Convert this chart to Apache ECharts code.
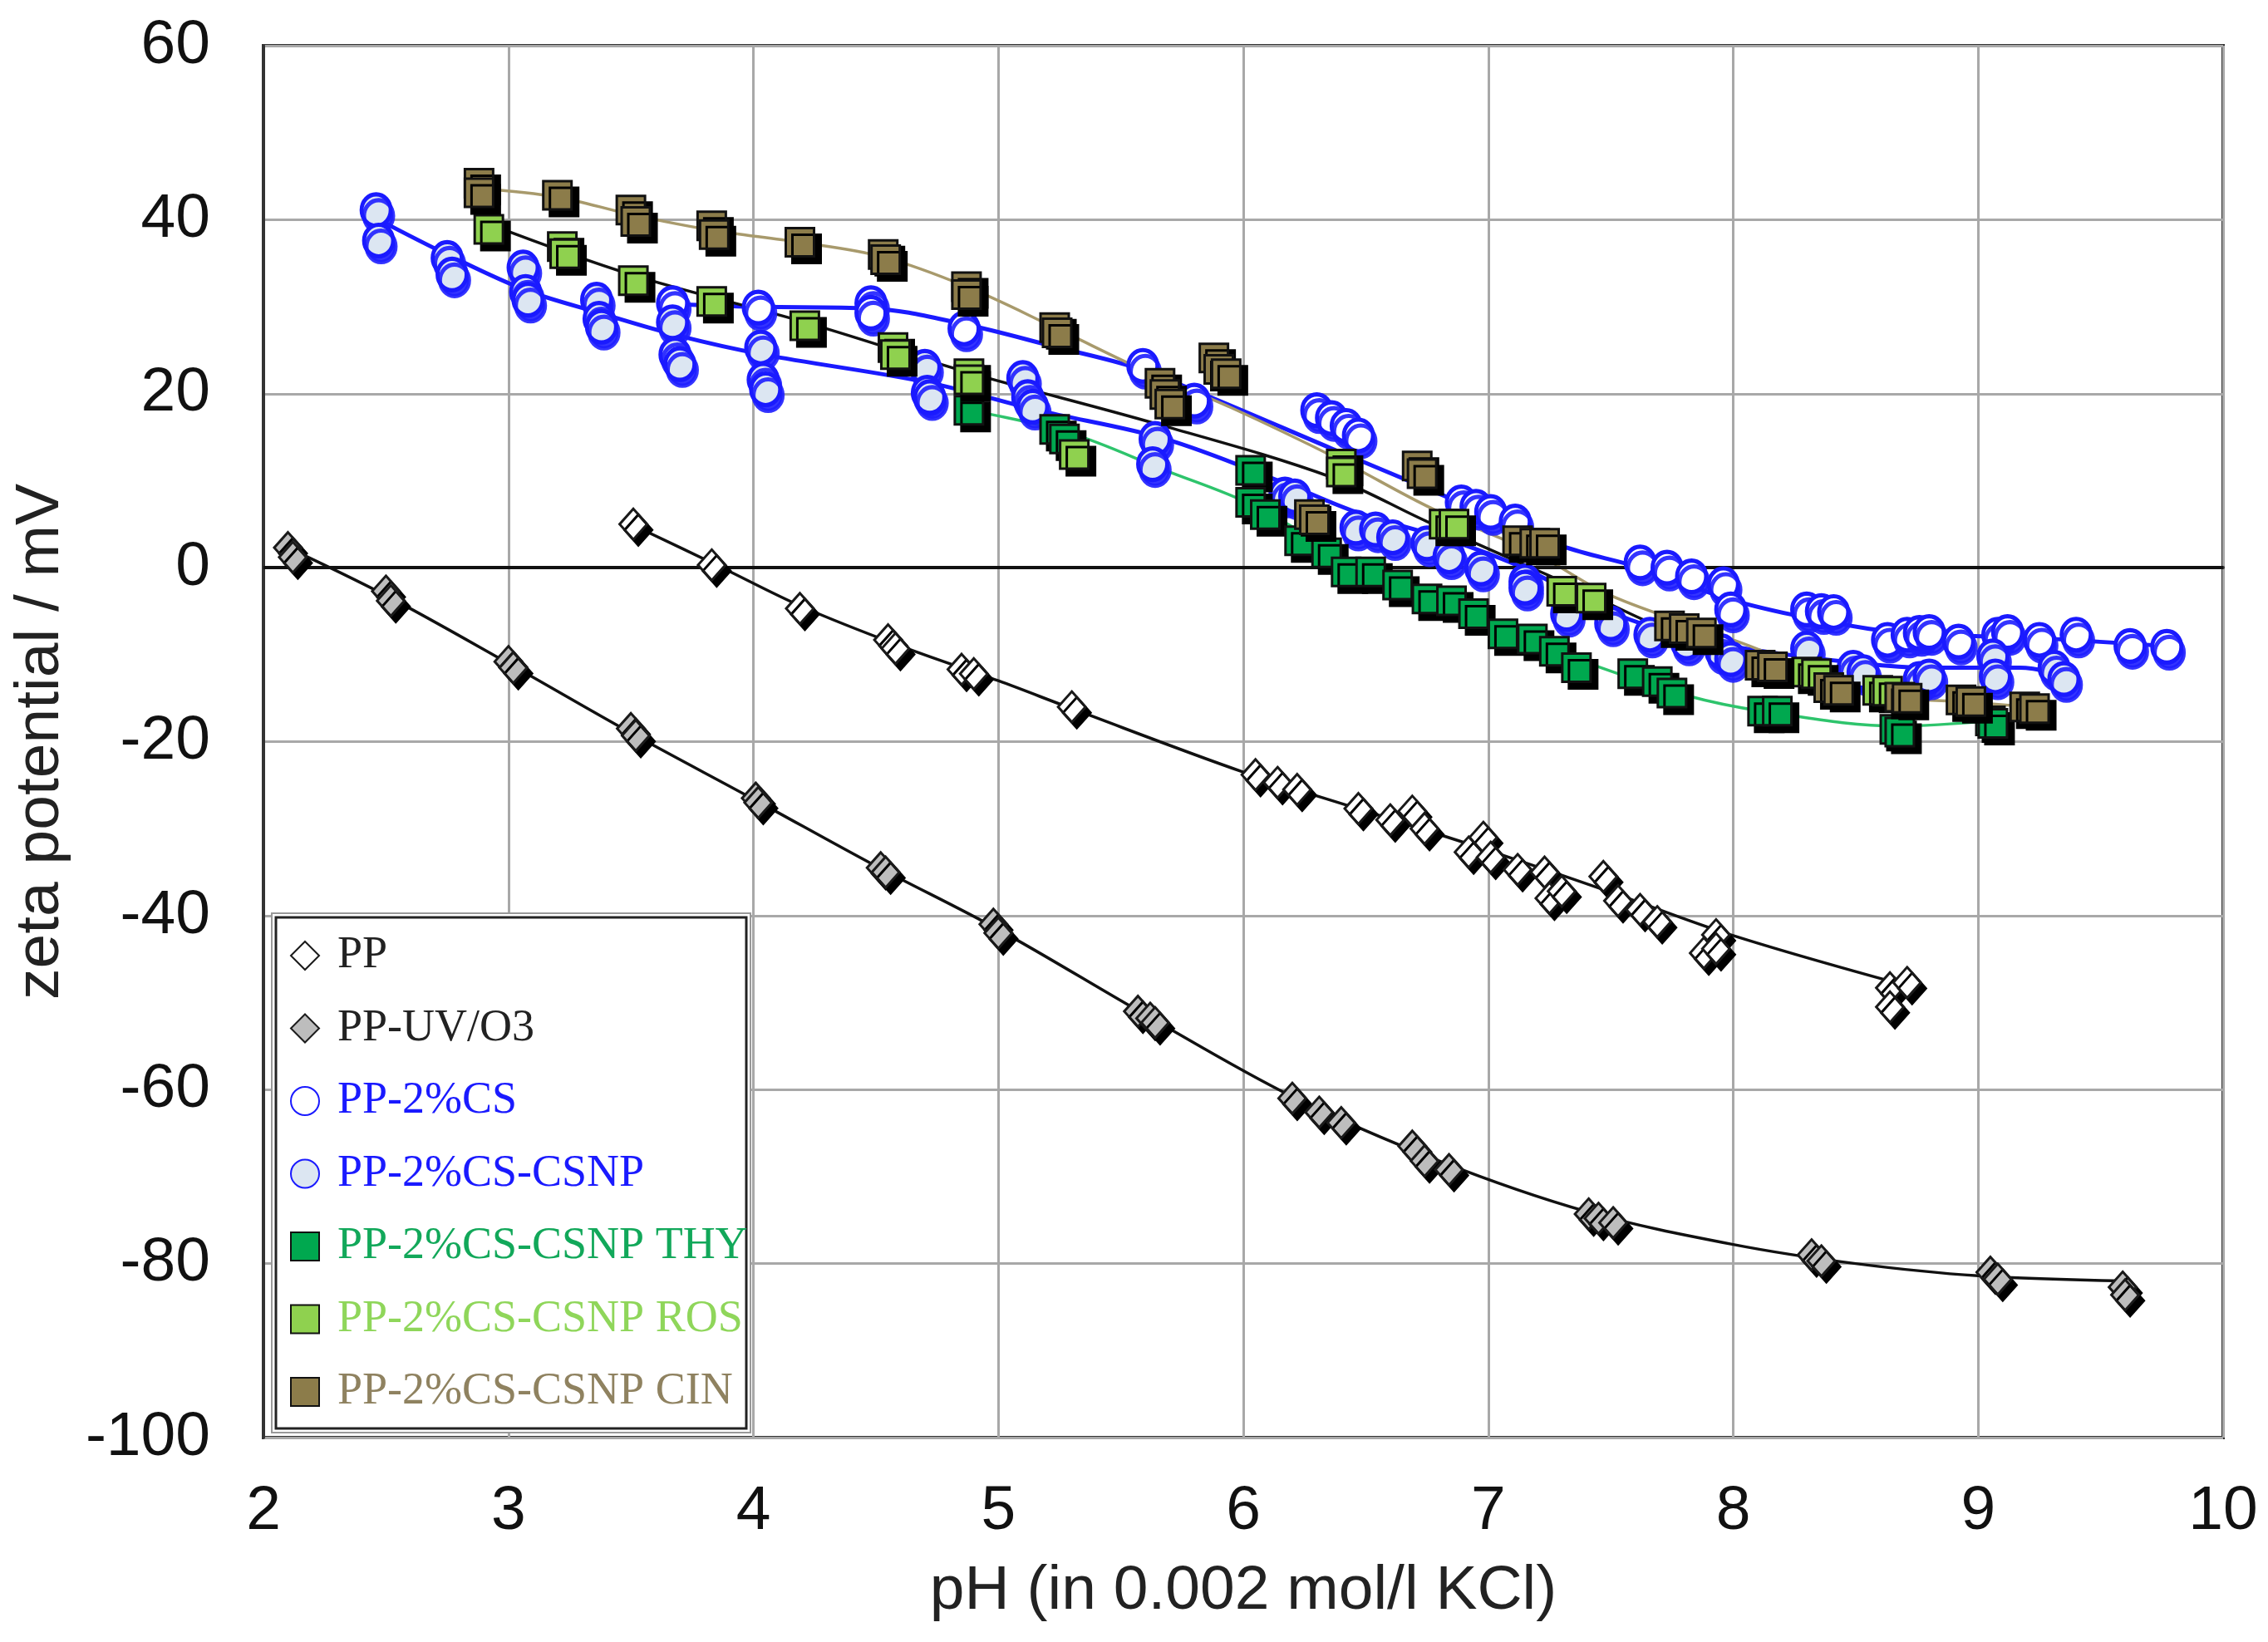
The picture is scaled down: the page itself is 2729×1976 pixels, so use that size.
<!DOCTYPE html>
<html><head><meta charset="utf-8">
<script src="https://cdn.jsdelivr.net/npm/echarts@6/dist/echarts.min.js"></script>
<style>html,body{margin:0;padding:0;background:#fff}#c{width:2729px;height:1976px}</style>
</head><body><div id="c"></div>
<script>
// axis ticks
const xTicks = [2, 3, 4, 5, 6, 7, 8, 9, 10];
const yTicks = [-100, -80, -60, -40, -20, 0, 20, 40, 60];

// measured points [pH, zeta mV]
const ppPts = [[3.51,5],[3.83,0.3],[4.19,-4.7],[4.55,-8.3],[4.58,-9.3],[4.85,-11.7],[4.9,-12.2],[5.3,-16],[6.05,-23.8],[6.14,-24.7],[6.22,-25.5],[6.47,-27.7],[6.6,-29],[6.69,-28],[6.74,-30],[6.92,-32.7],[6.98,-31],[7.01,-33.3],[7.12,-34.7],[7.23,-35],[7.25,-38],[7.3,-37.2],[7.47,-35.5],[7.53,-38.3],[7.62,-39.3],[7.69,-40.7],[7.88,-44.3],[7.93,-42.2],[7.93,-43.8],[8.64,-48.3],[8.71,-47.7],[8.64,-50.5]];
const ppuvPts = [[2.1,2.3],[2.12,1.2],[2.5,-2.7],[2.52,-3.8],[3.0,-10.8],[3.02,-11.5],[3.5,-18.5],[3.52,-19.3],[4.01,-26.5],[4.02,-27],[4.52,-34.5],[4.54,-35],[4.98,-41],[5.0,-42],[5.57,-51],[5.62,-51.8],[5.64,-52.3],[6.2,-61],[6.31,-62.6],[6.4,-63.8],[6.69,-66.5],[6.74,-68.2],[6.84,-69.2],[7.41,-74.3],[7.45,-74.8],[7.51,-75.3],[8.32,-79],[8.36,-79.7],[9.05,-81],[9.08,-81.8],[9.59,-82.7],[9.6,-83.6]];
const csPts = [[3.67,30.4],[4.02,29.9],[4.48,30.4],[4.48,29.3],[4.86,27.5],[5.59,23.2],[5.8,19.2],[6.3,18.1],[6.36,17.2],[6.42,16.3],[6.47,15.2],[6.89,7.5],[6.95,7.0],[7.01,6.4],[7.11,5.3],[7.62,0.6],[7.73,0],[7.83,-1.0],[7.96,-1.9],[7.99,-4.8],[8.3,-4.8],[8.36,-5.0],[8.41,-5.1],[8.63,-8.3],[8.71,-7.7],[8.76,-7.5],[8.8,-7.4],[8.92,-8.5],[9.08,-7.7],[9.12,-7.4],[9.25,-8.3],[9.4,-7.7],[9.62,-9.0],[9.77,-9.1]];
const csnpPts = [[2.46,41.1],[2.47,37.6],[2.75,35.6],[2.77,33.7],[3.06,34.5],[3.07,31.7],[3.08,30.8],[3.36,30.8],[3.37,28.6],[3.38,27.7],[3.67,28.2],[3.68,24.5],[3.7,23.4],[4.03,25.3],[4.04,21.6],[4.05,20.5],[4.7,23.1],[4.71,20.1],[4.72,19.6],[5.1,21.8],[5.12,19.6],[5.14,18.5],[5.64,14.8],[5.63,11.9],[6.17,8.4],[6.21,8.2],[6.46,4.6],[6.54,4.4],[6.61,3.5],[6.75,2.8],[6.84,1.3],[6.97,-0.1],[7.15,-1.6],[7.15,-2.3],[7.32,-3.8],[7.32,-5.3],[7.5,-6.4],[7.66,-7.7],[7.81,-8.6],[7.95,-9.6],[7.99,-10.5],[8.3,-9.3],[8.49,-11.5],[8.53,-12.0],[8.76,-12.8],[8.8,-12.5],[9.06,-10.2],[9.07,-12.5],[9.31,-11.5],[9.35,-12.8]];
const thyPts = [[4.88,18.1],[5.23,15.9],[5.27,14.8],[6.03,11.2],[6.03,7.5],[6.09,6.1],[6.23,3.1],[6.34,1.7],[6.42,-0.5],[6.52,-0.5],[6.63,-2.0],[6.75,-3.6],[6.85,-3.8],[6.94,-5.3],[7.06,-7.6],[7.18,-8.2],[7.27,-9.6],[7.36,-11.5],[7.59,-12.2],[7.69,-13.1],[7.75,-14.4],[8.12,-16.5],[8.18,-16.5],[8.66,-18.6],[8.68,-18.9],[9.05,-17.6],[9.06,-17.9]];
const rosPts = [[2.92,38.9],[3.22,36.9],[3.23,36.1],[3.51,33.0],[3.83,30.6],[4.21,27.8],[4.57,25.3],[4.58,24.5],[4.88,22.3],[4.88,21.6],[5.31,13.0],[6.4,11.9],[6.4,11.0],[6.82,5.0],[6.86,5.0],[7.3,-2.7],[7.42,-3.5],[8.3,-12.0],[8.34,-12.2],[8.59,-14.1],[8.63,-14.2]];
const cinPts = [[2.88,44.2],[2.88,43.1],[3.2,42.8],[3.5,41.1],[3.52,39.8],[3.83,39.3],[3.84,38.3],[4.19,37.4],[4.53,36.0],[4.54,35.4],[4.87,32.3],[4.87,31.4],[5.23,27.6],[5.24,27.0],[5.66,21.2],[5.68,19.9],[5.7,18.8],[5.88,24.1],[5.9,22.8],[5.93,22.3],[6.27,6.1],[6.29,5.5],[6.71,11.7],[6.73,10.8],[7.12,3.1],[7.19,2.8],[7.23,2.8],[7.74,-6.7],[7.8,-7.0],[7.87,-7.5],[8.11,-11.2],[8.16,-11.4],[8.39,-13.8],[8.43,-14.1],[8.68,-14.9],[8.71,-15.0],[8.93,-15.2],[8.97,-15.4],[9.19,-16.0],[9.23,-16.2]];

// trend curves
const ppFit = [[3.5,5],[3.85,0.3],[4.2,-4.5],[4.6,-9],[5.0,-13],[5.3,-16.2],[6.0,-23.5],[6.5,-28],[7.0,-32.5],[7.5,-37.3],[8.0,-42.3],[8.7,-48]];
const ppuvFit = [[2.1,2.3],[2.5,-3.2],[3.0,-11],[3.5,-19],[4.0,-26.6],[4.5,-34.3],[5.0,-41.6],[5.6,-51.4],[6.2,-60.8],[6.8,-68.2],[7.4,-74],[8.0,-77.8],[8.5,-80],[9.0,-81.4],[9.6,-82]];
const csFit = [[3.67,30.3],[4.0,30.0],[4.48,29.8],[4.86,28.0],[5.23,25.4],[5.56,23.0],[5.84,19.9],[6.36,13.7],[6.85,7.9],[7.3,2.5],[7.62,0],[7.97,-3.5],[8.24,-5.4],[8.55,-7.0],[8.78,-7.7],[9.17,-8.0],[9.76,-9.0]];
const csnpFit = [[2.47,40],[2.75,36],[3.07,31.9],[3.37,29.3],[3.69,26.7],[4.04,24.5],[4.71,21.3],[5.16,18.1],[5.68,14.8],[6.17,9.7],[6.46,6.4],[6.85,3.1],[7.14,0],[7.5,-5.1],[7.81,-8.0],[8.12,-9.6],[8.49,-10.9],[8.78,-11.5],[9.17,-11.5],[9.37,-12.5]];
const thyFit = [[4.88,18.1],[5.29,15.5],[5.68,11.2],[6.03,7.3],[6.4,1.5],[6.8,-3.8],[7.1,-7.6],[7.43,-11.2],[7.81,-14.7],[8.12,-16.5],[8.67,-18.2],[9.06,-17.6]];
const rosFit = [[2.92,39.5],[3.5,33.7],[4.2,28.3],[4.87,22.5],[5.65,16.5],[6.36,10.4],[6.75,5.3],[7.28,-1.3],[7.81,-8],[8.37,-12.2],[8.63,-14.2]];
const cinFit = [[2.88,43.6],[3.2,42.6],[3.5,40.6],[3.83,38.8],[4.19,37.4],[4.53,35.7],[4.87,32.3],[5.23,27.6],[5.6,22.6],[5.95,18.4],[6.38,12.6],[6.77,6.8],[7.2,1.5],[7.5,-3.2],[7.94,-7.7],[8.12,-9.6],[8.39,-13.1],[8.71,-15],[8.93,-15.4],[9.21,-16]];

const names = ['PP','PP-UV/O3','PP-2%CS','PP-2%CS-CSNP','PP-2%CS-CSNP THY','PP-2%CS-CSNP ROS','PP-2%CS-CSNP CIN'];
const BLUE = '#1a1aff';

function fit(data, color, width) {
  return { type:'line', data, smooth:0.35, showSymbol:false, symbol:'none', silent:true, z:2,
    lineStyle:{color, width}, legendHoverLink:false };
}
function pts(name, data, symbol, size, fill, border, bw, shadow, ox, oy, z) {
  return { type:'scatter', name, data, symbol, symbolSize:size, z,
    itemStyle:{color:fill, borderColor:border, borderWidth:bw, opacity:1,
      shadowColor:shadow, shadowBlur:0, shadowOffsetX:ox, shadowOffsetY:oy} };
}

const chart = echarts.init(document.getElementById('c'));
chart.setOption({
  backgroundColor:'#fff',
  animation:false,
  grid:{left:317, right:54, top:55, bottom:246, show:true, borderColor:'#333', borderWidth:4},
  xAxis:{type:'value', min:xTicks[0], max:xTicks[xTicks.length-1], interval:1,
    name:'pH (in 0.002 mol/l KCl)', nameLocation:'middle', nameGap:148,
    nameTextStyle:{fontFamily:'Liberation Sans', fontSize:75, color:'#222'},
    axisLine:{show:true, lineStyle:{color:'#333', width:4}},
    axisTick:{show:false},
    axisLabel:{fontFamily:'Liberation Sans', fontSize:75, color:'#111', margin:52},
    splitLine:{show:true, lineStyle:{color:'#a8a8a8', width:3}}},
  yAxis:{type:'value', min:yTicks[0], max:yTicks[yTicks.length-1], interval:20,
    name:'zeta potential / mV', nameLocation:'middle', nameGap:230, nameRotate:90,
    nameTextStyle:{fontFamily:'Liberation Sans', fontSize:75, color:'#222'},
    axisLine:{show:true, lineStyle:{color:'#333', width:4}},
    axisTick:{show:false},
    axisLabel:{fontFamily:'Liberation Sans', fontSize:75, color:'#111', margin:64},
    splitLine:{show:true, lineStyle:{color:'#a8a8a8', width:3}}},
  legend:{orient:'vertical', left:344, top:1118, itemWidth:34, itemHeight:34, itemGap:33.5,
    selectedMode:false,
    itemStyle:{shadowColor:'rgba(0,0,0,0)', shadowBlur:0, shadowOffsetX:0, shadowOffsetY:0},
    textStyle:{fontFamily:'Liberation Serif', fontSize:54, lineHeight:54, padding:[0,0,0,17]},
    data:[
      {name:names[0], textStyle:{color:'#222'}},
      {name:names[1], textStyle:{color:'#222'}},
      {name:names[2], textStyle:{color:BLUE}},
      {name:names[3], textStyle:{color:BLUE}},
      {name:names[4], textStyle:{color:'#12a85a'}},
      {name:names[5], textStyle:{color:'#8fd65a'}},
      {name:names[6], textStyle:{color:'#8f8260'}}
    ]},
  graphic:[
    {type:'rect', z:3, shape:{x:327, y:1099, width:576, height:625}, style:{fill:'#fff', stroke:'#999', lineWidth:2}},
    {type:'rect', z:3, shape:{x:332, y:1104, width:566, height:615}, style:{fill:'#fff', stroke:'#222', lineWidth:3}}
  ],
  series:[
    Object.assign(fit(ppuvFit, '#111', 3.5), {markLine:{silent:true, symbol:['none','none'], label:{show:false},
      lineStyle:{color:'#111', width:4, type:'solid'}, data:[{yAxis:0}]}}),
    fit(ppFit, '#111', 3.5),
    fit(csFit, BLUE, 5),
    fit(csnpFit, BLUE, 5),
    fit(thyFit, '#2ec46c', 3.5),
    fit(rosFit, '#111', 3.5),
    fit(cinFit, '#a89a6c', 3.5),
    pts(names[1], ppuvPts, 'diamond', [33,37], '#bdbdbd', '#1a1a1a', 3, '#000', 6, 7, 5),
    pts(names[0], ppPts, 'diamond', [33,37], '#ffffff', '#1a1a1a', 3, '#000', 6, 7, 5),
    pts(names[2], csPts, 'circle', [35,38], '#ffffff', BLUE, 5, 'rgba(30,30,255,0.9)', 3, 7, 5),
    pts(names[3], csnpPts, 'circle', [35,38], '#dce6f2', BLUE, 5, 'rgba(30,30,255,0.9)', 3, 7, 5),
    pts(names[4], thyPts, 'rect', 34, '#00a84f', '#111', 3, '#000', 8, 8, 6),
    pts(names[5], rosPts, 'rect', 34, '#8fd14f', '#111', 3, '#000', 8, 8, 6),
    pts(names[6], cinPts, 'rect', 34, '#8c7c4a', '#111', 3, '#000', 8, 8, 6)
  ]
});
</script>
</body></html>
